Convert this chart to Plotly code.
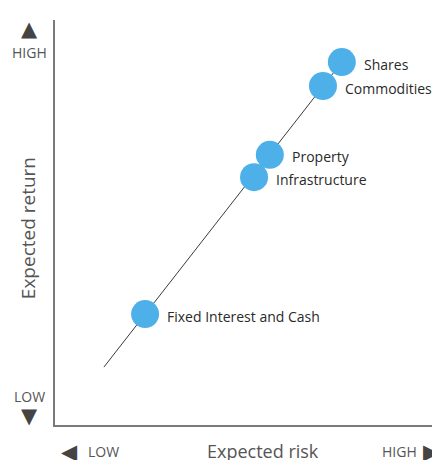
import plotly.graph_objects as go

# Data (arbitrary 0-10 scale)
assets = ["Shares", "Commodities", "Property", "Infrastructure", "Fixed Interest and Cash"]
risk = [7.45, 6.96, 5.58, 5.17, 2.34]
ret = [8.96, 8.37, 6.67, 6.12, 2.74]
trend_x = [1.27, 7.45]
trend_y = [1.43, 8.96]

AX = "#7a7a7a"
TXT = "#2a2a2a"
GREY = "#555555"
FONT = "Open Sans"

fig = go.Figure()
fig.add_trace(go.Scatter(x=trend_x, y=trend_y, mode="lines",
                         line=dict(color="#3a3a3a", width=1), hoverinfo="skip"))
fig.add_trace(go.Scatter(x=risk, y=ret, mode="markers",
                         marker=dict(size=28, color="#4eb0e9", line=dict(width=0)),
                         hoverinfo="skip"))

ann = []
for a, xv, yv in zip(assets, risk, ret):
    ann.append(dict(x=xv, y=yv, xref="x", yref="y", text=a, showarrow=False,
                    xanchor="left", yanchor="middle", xshift=20, yshift=-2,
                    font=dict(family=FONT, size=14, color=TXT)))

side = dict(family=FONT, size=14, color=GREY)
tri = dict(family="DejaVu Sans", size=21, color="#444444")
ann += [
    dict(x=0, y=1, xref="paper", yref="paper", text="▲", showarrow=False, xanchor="center",
         yanchor="middle", xshift=-26, yshift=-9, font=tri),
    dict(x=0, y=1, xref="paper", yref="paper", text="HIGH", showarrow=False, xanchor="center",
         yanchor="middle", xshift=-26, yshift=-32, font=side),
    dict(x=0, y=0, xref="paper", yref="paper", text="LOW", showarrow=False, xanchor="center",
         yanchor="middle", xshift=-26, yshift=29, font=side),
    dict(x=0, y=0, xref="paper", yref="paper", text="▼", showarrow=False, xanchor="center",
         yanchor="middle", xshift=-26, yshift=9, font=tri),
    dict(x=0, y=0.486, xref="paper", yref="paper", text="Expected return", showarrow=False,
         textangle=-90, xanchor="center", yanchor="middle", xshift=-27,
         font=dict(family=FONT, size=19, color=GREY)),
    dict(x=0, y=0, xref="paper", yref="paper", text="◀", showarrow=False, xanchor="center",
         yanchor="middle", xshift=14, yshift=-27, font=tri),
    dict(x=0, y=0, xref="paper", yref="paper", text="LOW", showarrow=False, xanchor="left",
         yanchor="middle", xshift=31, yshift=-26, font=side),
    dict(x=0.54, y=0, xref="paper", yref="paper", text="Expected risk", showarrow=False,
         xanchor="center", yanchor="middle", yshift=-26,
         font=dict(family=FONT, size=18, color=GREY)),
    dict(x=1, y=0, xref="paper", yref="paper", text="HIGH", showarrow=False, xanchor="right",
         yanchor="middle", xshift=-21, yshift=-26, font=side),
    dict(x=1, y=0, xref="paper", yref="paper", text="▶", showarrow=False, xanchor="center",
         yanchor="middle", xshift=-9, yshift=-27, font=tri),
]

# page body adds an 8px offset; compensate so the plot area sits at x 55..440, y 20..425
fig.update_layout(
    width=432, height=452,
    margin=dict(l=47, r=0, t=12, b=35),
    paper_bgcolor="white", plot_bgcolor="white",
    showlegend=False,
    annotations=ann,
    xaxis=dict(range=[0, 10], showgrid=False, zeroline=False, showticklabels=False,
               ticks="", showline=True, linecolor=AX, linewidth=1.5, fixedrange=True),
    yaxis=dict(range=[0, 10], showgrid=False, zeroline=False, showticklabels=False,
               ticks="", showline=True, linecolor=AX, linewidth=1.5, fixedrange=True),
)
fig.write_html("out.html", config=dict(displayModeBar=False))
